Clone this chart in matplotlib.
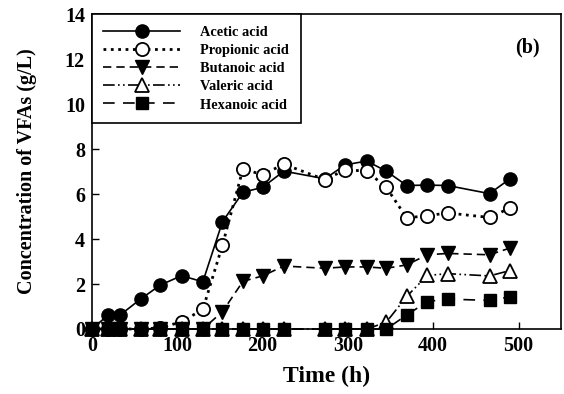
import matplotlib.pyplot as plt

plt.rcParams['font.family'] = 'Liberation Serif'
plt.rcParams['font.weight'] = 'bold'

t_h = [0, 19, 33, 57, 80, 105, 130, 153, 177, 200, 225, 273, 297, 322, 345, 369, 393, 417, 466, 490]

acetic = [0.0, 0.62, 0.62, 1.33, 1.95, 2.37, 2.1, 4.77, 6.08, 6.3, 7.02, 6.68, 7.3, 7.47, 7.02, 6.38, 6.4, 6.38, 6.02, 6.68]
propionic = [0.0, 0.0, 0.0, 0.0, 0.05, 0.32, 0.87, 3.73, 7.12, 6.86, 7.33, 6.64, 7.08, 7.02, 6.3, 4.94, 5.04, 5.16, 4.96, 5.38]
butanoic = [0.0, 0.0, 0.0, 0.0, 0.0, 0.0, 0.0, 0.77, 2.12, 2.36, 2.8, 2.7, 2.76, 2.76, 2.7, 2.85, 3.3, 3.36, 3.3, 3.6]
valeric = [0.0, 0.0, 0.0, 0.0, 0.0, 0.0, 0.0, 0.0, 0.0, 0.0, 0.0, 0.0, 0.0, 0.0, 0.3, 1.45, 2.38, 2.46, 2.36, 2.6]
hexanoic = [0.0, 0.0, 0.0, 0.0, 0.0, 0.0, 0.0, 0.0, 0.0, 0.0, 0.0, 0.0, 0.0, 0.0, 0.0, 0.62, 1.22, 1.33, 1.27, 1.43]

fig = plt.figure(figsize=(5.64, 3.94), dpi=100)
ax = fig.add_axes([0.163, 0.165, 0.832, 0.799])

ms = 9.5
lw = 1.2
ax.plot(t_h, acetic, '-', color='k', lw=lw, marker='o', ms=ms, mfc='k', mec='k', label='Acetic acid', clip_on=False)
ax.plot(t_h, propionic, ':', color='k', lw=2, marker='o', ms=ms, mfc='white', mec='k', mew=1.3, label='Propionic acid', clip_on=False)
ax.plot(t_h, butanoic, color='k', lw=lw, ls=(0, (5, 3)), marker='v', ms=ms + 1, mfc='k', mec='k', label='Butanoic acid', clip_on=False)
ax.plot(t_h, valeric, color='k', lw=lw, ls=(0, (7, 2, 1, 2, 1, 2)), marker='^', ms=ms + 1, mfc='white', mec='k', mew=1.3, label='Valeric acid', clip_on=False)
ax.plot(t_h, hexanoic, color='k', lw=lw, ls=(0, (7, 5)), marker='s', ms=ms - 0.5, mfc='k', mec='k', label='Hexanoic acid', clip_on=False)

ax.set_xlim(0, 550)
ax.set_ylim(0, 14)
ax.set_xticks([0, 100, 200, 300, 400, 500])
ax.set_yticks([0, 2, 4, 6, 8, 10, 12, 14])
ax.tick_params(direction='in', labelsize=14.5, length=5, width=1, pad=5)
for lab in ax.get_xticklabels() + ax.get_yticklabels():
    lab.set_fontweight('bold')
for s in ax.spines.values():
    s.set_linewidth(1.2)

ax.set_xlabel('Time (h)', fontsize=17, fontweight='bold', labelpad=7)
ax.set_ylabel('Concentration of VFAs (g/L)', fontsize=14.5, fontweight='bold', labelpad=20)
ax.text(510, 12.5, '(b)', fontsize=14.5, fontweight='bold', ha='center', va='center')

leg = ax.legend(loc='upper left', borderaxespad=0, fontsize=10.4, handlelength=5.3,
                numpoints=1, fancybox=False, framealpha=1, edgecolor='k',
                labelspacing=0.35, borderpad=0.8, handletextpad=1.4)
leg.get_frame().set_linewidth(1.2)

fig.savefig('out.png', dpi=100)
